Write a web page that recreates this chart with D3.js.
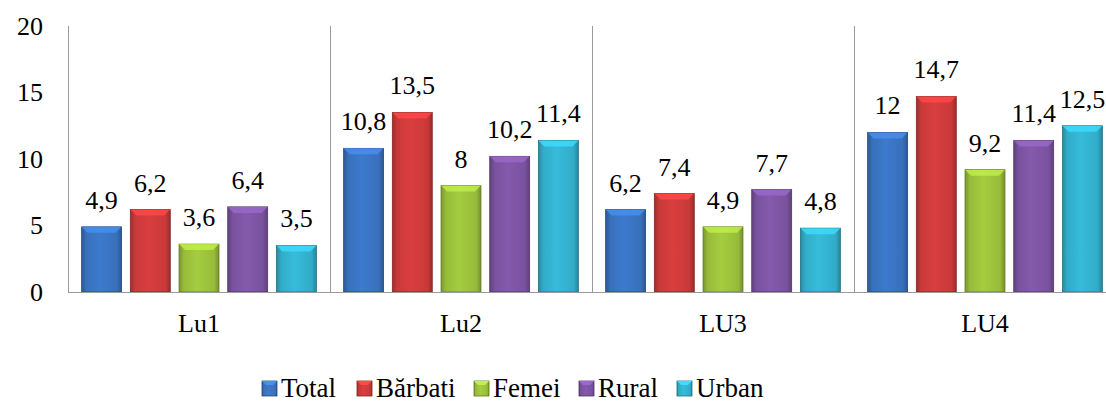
<!DOCTYPE html>
<html>
<head>
<meta charset="utf-8">
<script src="https://cdn.jsdelivr.net/npm/d3@7"></script>
<style>
  body { margin: 0; background: #fff; }
  svg text { font-family: "Liberation Serif", "DejaVu Serif", serif !important; }
</style>
</head>
<body>
<div id="chart"></div>
<script>
const categories = ["Lu1", "Lu2", "LU3", "LU4"];
const seriesNames = ["Total", "Bărbati", "Femei", "Rural", "Urban"];
const total   = [4.9, 10.8, 6.2, 12];
const barbati = [6.2, 13.5, 7.4, 14.7];
const femei   = [3.6, 8, 4.9, 9.2];
const rural   = [6.4, 10.2, 7.7, 11.4];
const urban   = [3.5, 11.4, 4.8, 12.5];
const yTicks = [0, 5, 10, 15, 20];

const seriesValues = [total, barbati, femei, rural, urban];
const colors = ["#3a74c2", "#cf3b3b", "#9cc23c", "#7d55a4", "#33b2cf"];
const FONT = "Liberation Serif, DejaVu Serif, serif";

const width = 1106, height = 403;
const margin = { top: 26, right: -10, bottom: 111, left: 68 };

const svg = d3.select("#chart")
    .append("svg")
    .attr("width", width)
    .attr("height", height)
    .attr("font-family", FONT);

// gradients for the bevelled bars
const defs = svg.append("defs");
colors.forEach((c, i) => {
    const g = defs.append("linearGradient")
        .attr("id", "grad" + i)
        .attr("x1", "0%").attr("x2", "100%").attr("y1", "0%").attr("y2", "0%");
    const base = d3.color(c);
    g.append("stop").attr("offset", "0%").attr("stop-color", base.darker(0.7));
    g.append("stop").attr("offset", "12%").attr("stop-color", base.darker(0.1));
    g.append("stop").attr("offset", "45%").attr("stop-color", base.brighter(0.15));
    g.append("stop").attr("offset", "88%").attr("stop-color", base.darker(0.1));
    g.append("stop").attr("offset", "100%").attr("stop-color", base.darker(0.8));
});

const x0 = d3.scaleBand()
    .domain(categories)
    .range([margin.left, width - margin.right])
    .padding(0);

const x1 = d3.scaleBand()
    .domain(seriesNames)
    .range([0, x0.bandwidth()])
    .paddingInner(0.18)
    .paddingOuter(0.28);

const y = d3.scaleLinear()
    .domain([0, 20])
    .range([height - margin.bottom, margin.top]);

// separators between categories
svg.append("g")
    .selectAll("line")
    .data(categories.slice(1))
    .enter()
    .append("line")
    .attr("x1", d => x0(d) + 0.5)
    .attr("x2", d => x0(d) + 0.5)
    .attr("y1", y(20))
    .attr("y2", y(0))
    .attr("stroke", "#9a9a9a")
    .attr("stroke-width", 1);

// bars
const groups = svg.append("g")
    .selectAll("g")
    .data(categories)
    .enter()
    .append("g")
    .attr("transform", d => `translate(${x0(d)},0)`);

const barData = (d, ci) => seriesNames.map((s, si) => ({ s, si, v: seriesValues[si][ci] }));

groups.each(function (cat, ci) {
    const g = d3.select(this);
    const items = barData(cat, ci);
    const bw = x1.bandwidth();

    const bar = g.selectAll("g.bar")
        .data(items)
        .enter()
        .append("g")
        .attr("class", "bar");

    bar.append("rect")
        .attr("x", d => x1(d.s))
        .attr("y", d => y(d.v))
        .attr("width", bw)
        .attr("height", d => y(0) - y(d.v))
        .attr("fill", d => `url(#grad${d.si})`)
        .attr("stroke", d => d3.color(colors[d.si]).darker(1.3))
        .attr("stroke-width", 0.8);

    // top bevel
    bar.append("path")
        .attr("d", d => {
            const xl = x1(d.s), xt = y(d.v), b = 6;
            return `M${xl},${xt}L${xl + bw},${xt}L${xl + bw - b},${xt + b}L${xl + b},${xt + b}Z`;
        })
        .attr("fill", d => d3.color(colors[d.si]).brighter(0.6))
        .attr("opacity", 0.8);

    // value labels
    g.selectAll("text.val")
        .data(items)
        .enter()
        .append("text")
        .attr("class", "val")
        .attr("x", d => x1(d.s) + bw / 2)
        .attr("y", d => y(d.v) - 18)
        .attr("text-anchor", "middle")
        .attr("font-family", FONT)
        .attr("font-size", 26)
        .text(d => String(d.v).replace(".", ","));
});

// axes lines
svg.append("line")
    .attr("x1", margin.left + 0.5).attr("x2", margin.left + 0.5)
    .attr("y1", y(20)).attr("y2", y(0))
    .attr("stroke", "#9a9a9a");
svg.append("line")
    .attr("x1", margin.left).attr("x2", width)
    .attr("y1", y(0) + 0.5).attr("y2", y(0) + 0.5)
    .attr("stroke", "#9a9a9a");

// y axis labels
const yAxis = svg.append("g")
    .attr("transform", `translate(${margin.left},0)`)
    .call(d3.axisLeft(y).tickValues(yTicks).tickSize(0).tickPadding(25));
yAxis.attr("font-family", FONT).attr("font-size", 26);
yAxis.select(".domain").remove();
yAxis.selectAll("text").attr("fill", "#000");

// x category labels
const xAxis = svg.append("g")
    .attr("transform", `translate(0,${y(0)})`)
    .call(d3.axisBottom(x0).tickSize(0).tickPadding(22));
xAxis.attr("font-family", FONT).attr("font-size", 26);
xAxis.select(".domain").remove();
xAxis.selectAll("text").attr("fill", "#000");

// legend
const legendX = [262, 357, 474, 579, 677];
const legend = svg.append("g")
    .selectAll("g")
    .data(seriesNames)
    .enter()
    .append("g")
    .attr("transform", (d, i) => `translate(${legendX[i]},381)`);

legend.append("rect")
    .attr("width", 15)
    .attr("height", 15)
    .attr("fill", (d, i) => `url(#grad${i})`)
    .attr("stroke", (d, i) => d3.color(colors[i]).darker(1.3))
    .attr("stroke-width", 0.8);

legend.append("path")
    .attr("d", "M0,0L15,0L11,4L4,4Z")
    .attr("fill", (d, i) => d3.color(colors[i]).brighter(0.6));

legend.append("text")
    .attr("x", 19)
    .attr("y", 16)
    .attr("font-family", FONT)
    .attr("font-size", 27)
    .text(d => d);
</script>
</body>
</html>
